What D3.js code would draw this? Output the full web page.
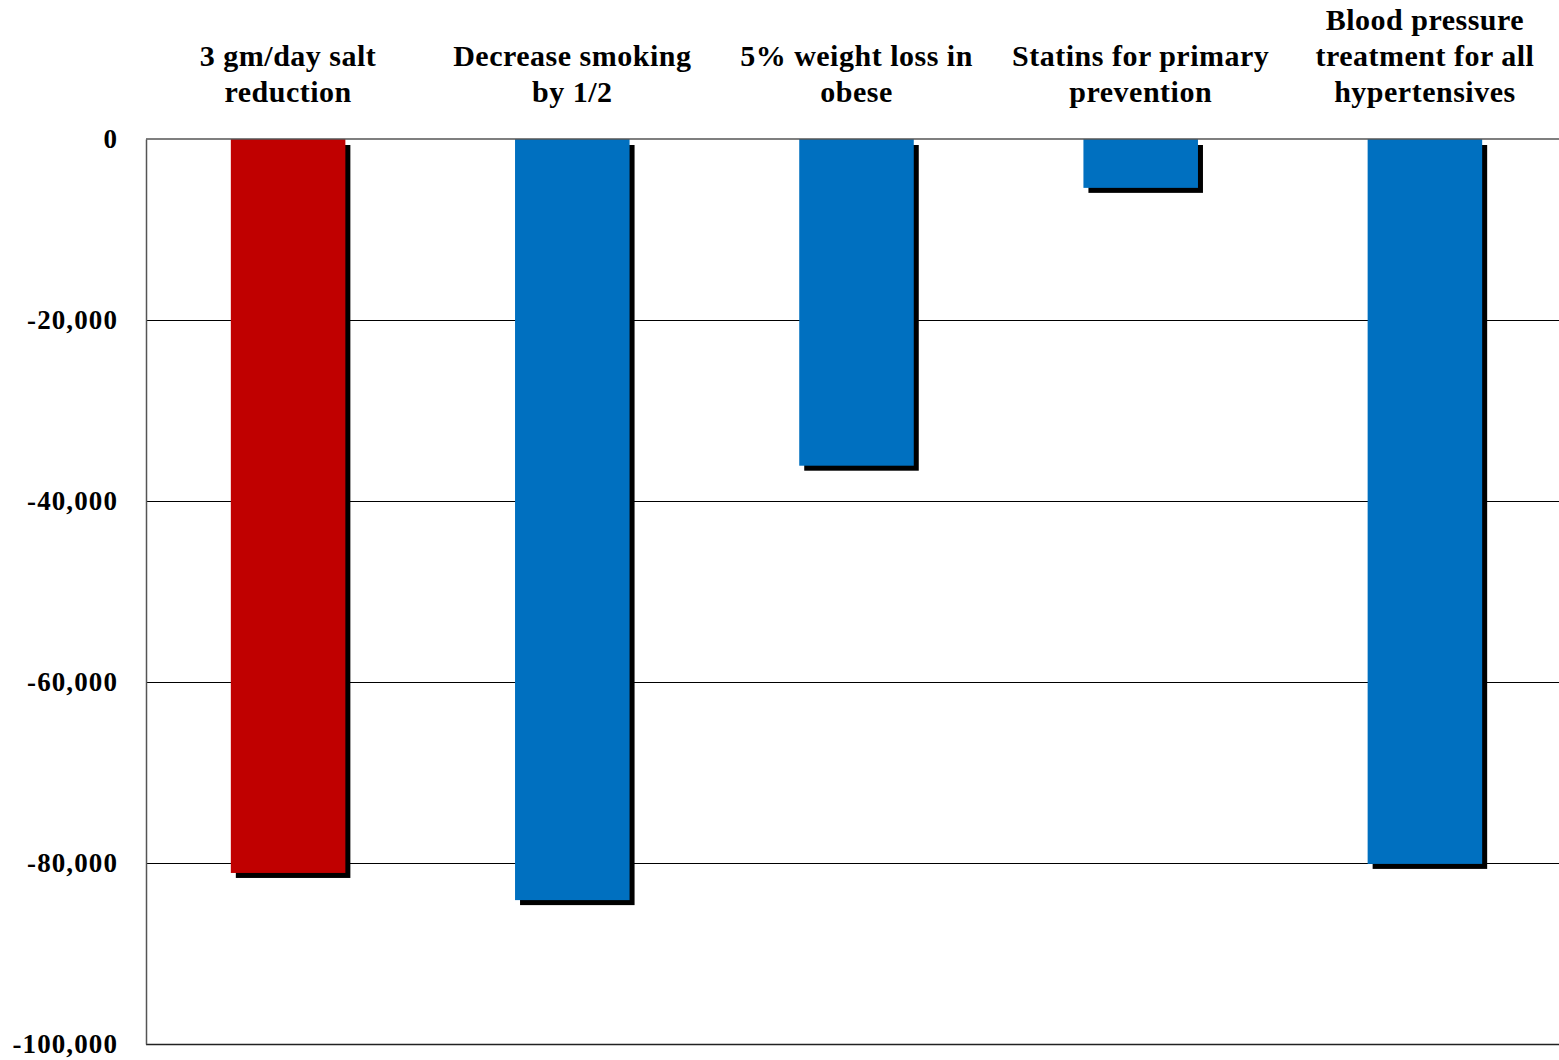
<!DOCTYPE html>
<html>
<head>
<meta charset="utf-8">
<script src="https://cdn.jsdelivr.net/npm/d3@7"></script>
<style>
  html, body { margin: 0; padding: 0; background: #fff; }
  svg { display: block; }
  text { font-family: "Liberation Serif", "DejaVu Serif", serif; font-weight: bold; fill: #000; }
</style>
</head>
<body>
<svg id="chart" width="1559" height="1060"></svg>
<script>
// Projected change in annual coronary heart disease events by intervention
const categories = [
  ["3 gm/day salt", "reduction"],
  ["Decrease smoking", "by 1/2"],
  ["5% weight loss in", "obese"],
  ["Statins for primary", "prevention"],
  ["Blood pressure", "treatment for all", "hypertensives"]
];
const values = [-81100, -84100, -36100, -5400, -80100];
const barColors = ["#C00000", "#0070C0", "#0070C0", "#0070C0", "#0070C0"];
const yTicks = [0, -20000, -40000, -60000, -80000, -100000];

const svg = d3.select("#chart");
const plotLeft = 146, plotRight = 1567, plotTop = 139, plotBottom = 1044;
const visibleRight = 1559;

const keys = categories.map((c, i) => i);
const x = d3.scaleBand().domain(keys).range([plotLeft, plotRight])
  .paddingInner(0.597).paddingOuter(0.2985);
const y = d3.scaleLinear().domain([-100000, 0]).range([plotBottom, plotTop]);
const crisp = v => Math.round(v) + 0.5;

// horizontal gridlines
svg.append("g").selectAll("line")
  .data(yTicks.filter(t => t !== 0 && t !== -100000))
  .join("line")
  .attr("x1", plotLeft).attr("x2", visibleRight)
  .attr("y1", d => crisp(y(d))).attr("y2", d => crisp(y(d)))
  .attr("stroke", "#000").attr("stroke-width", 1);

// bottom border
svg.append("line")
  .attr("x1", plotLeft).attr("x2", visibleRight)
  .attr("y1", crisp(y(-100000))).attr("y2", crisp(y(-100000)))
  .attr("stroke", "#222").attr("stroke-width", 1.5);

// drop shadows
const off = 5;
svg.append("g").selectAll("rect")
  .data(values)
  .join("rect")
  .attr("x", (d, i) => x(i) + off)
  .attr("y", d => y(0) + off + 1)
  .attr("width", x.bandwidth())
  .attr("height", d => y(d) - y(0) - 1)
  .attr("fill", "#000");

// bars
svg.append("g").selectAll("rect")
  .data(values)
  .join("rect")
  .attr("x", (d, i) => x(i))
  .attr("y", y(0))
  .attr("width", x.bandwidth())
  .attr("height", d => y(d) - y(0))
  .attr("fill", (d, i) => barColors[i]);

// zero line and left axis
svg.append("line")
  .attr("x1", plotLeft).attr("x2", visibleRight)
  .attr("y1", y(0)).attr("y2", y(0))
  .attr("stroke", "#555").attr("stroke-width", 1.5);

const yAxis = d3.axisLeft(y).tickValues(yTicks).tickSize(0).tickPadding(28)
  .tickFormat(d => d === 0 ? "0" : d3.format(",")(d).replace("−", "-"));
const ga = svg.append("g").attr("transform", `translate(${plotLeft},0)`).call(yAxis);
ga.select(".domain").attr("stroke", "#555").attr("stroke-width", 1.5);
ga.selectAll("text")
  .attr("font-size", 27)
  .attr("letter-spacing", 1.1)
  .attr("font-family", "Liberation Serif, serif")
  .attr("font-weight", "bold")
  .attr("fill", "#000");

// category labels above the plot, bottom-aligned
const lineH = 36;
const lastBaseline = 102;
const lab = svg.append("g");
categories.forEach((lines, i) => {
  const cx = x(i) + x.bandwidth() / 2;
  const t = lab.append("text")
    .attr("text-anchor", "middle")
    .attr("font-size", 30)
    .attr("letter-spacing", 0.5);
  lines.forEach((ln, j) => {
    t.append("tspan")
      .attr("x", cx)
      .attr("y", lastBaseline - (lines.length - 1 - j) * lineH)
      .text(ln);
  });
});
</script>
</body>
</html>
